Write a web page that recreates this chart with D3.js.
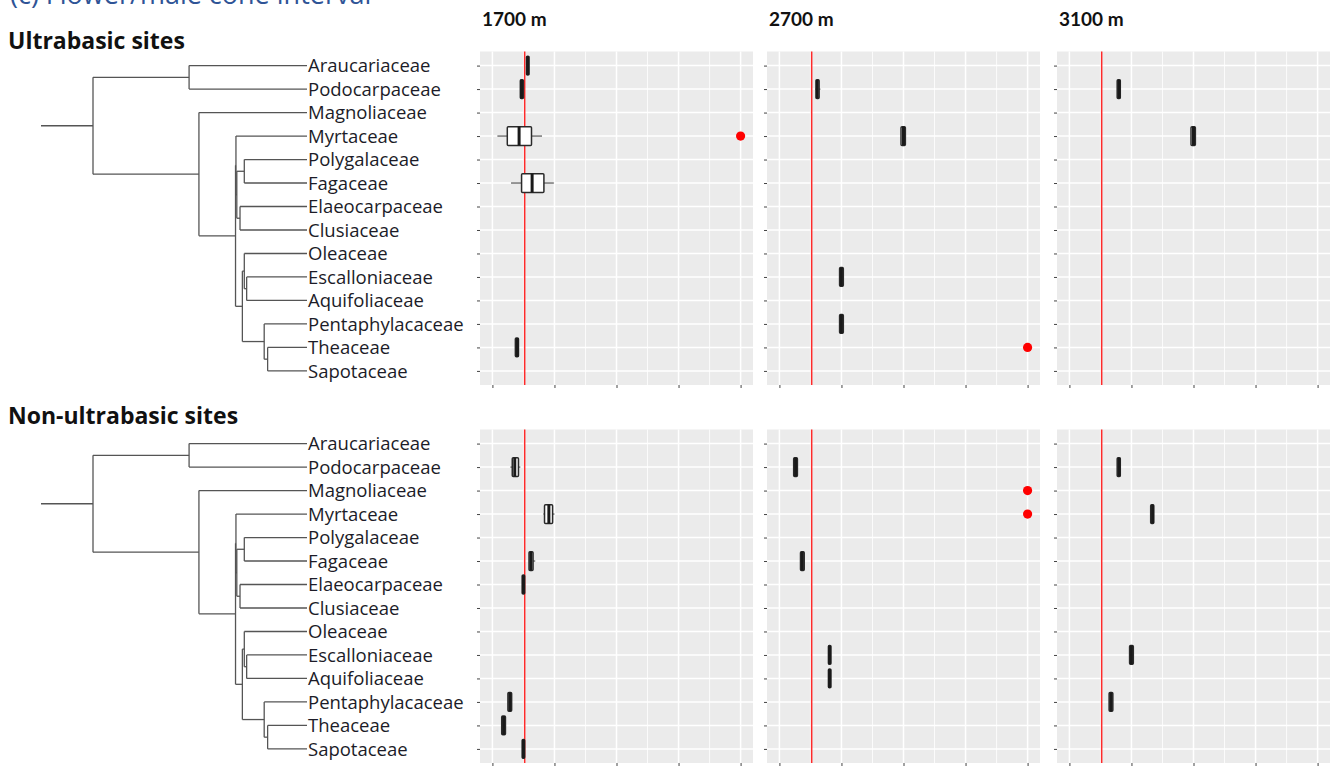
<!DOCTYPE html>
<html>
<head>
<meta charset="utf-8">
<script src="https://cdn.jsdelivr.net/npm/d3@7"></script>
<style>
  body { margin: 0; background: #fff; }
  svg { display: block; font-family: "Open Sans", Lato, sans-serif; }
</style>
</head>
<body>
<svg id="chart" width="1344" height="766"></svg>
<script>
// families, top to bottom (same order as the tree tips)
var families = ["Araucariaceae", "Podocarpaceae", "Magnoliaceae", "Myrtaceae", "Polygalaceae",
  "Fagaceae", "Elaeocarpaceae", "Clusiaceae", "Oleaceae", "Escalloniaceae", "Aquifoliaceae",
  "Pentaphylacaceae", "Theaceae", "Sapotaceae"];

var sites = ["Ultrabasic sites", "Non-ultrabasic sites"];
var elevations = ["1700 m", "2700 m", "3100 m"];
var xTicks = [0, 1, 2, 3, 4];

// phylogeny with relative branch lengths
var newick = "((Araucariaceae:0.551,Podocarpaceae:0.551):0.449,(Magnoliaceae:0.505,((Myrtaceae:0.332," +
  "((Polygalaceae:0.293,Fagaceae:0.293):0.035,(Elaeocarpaceae:0.313,Clusiaceae:0.313):0.015):0.004):0.002," +
  "((Oleaceae:0.293,(Escalloniaceae:0.282,Aquifoliaceae:0.282):0.011):0.009," +
  "(Pentaphylacaceae:0.2,(Theaceae:0.184,Sapotaceae:0.184):0.016):0.102):0.032):0.171):0.495);";
var rootEdge = 0.243;

// boxplots: [family, lower whisker, q1, median, q3, upper whisker]
var ultra1700 = [
  ["Araucariaceae", 0.55, 0.55, 0.57, 0.59, 0.59],
  ["Podocarpaceae", 0.45, 0.45, 0.47, 0.50, 0.50],
  ["Myrtaceae", 0.08, 0.24, 0.43, 0.63, 0.80],
  ["Fagaceae", 0.30, 0.47, 0.64, 0.83, 0.99],
  ["Theaceae", 0.37, 0.37, 0.40, 0.42, 0.42]
];
var ultra2700 = [
  ["Podocarpaceae", 0.58, 0.59, 0.61, 0.64, 0.66],
  ["Myrtaceae", 1.96, 1.96, 2.00, 2.03, 2.03],
  ["Escalloniaceae", 0.97, 0.97, 1.00, 1.03, 1.03],
  ["Pentaphylacaceae", 0.97, 0.97, 1.00, 1.03, 1.03]
];
var ultra3100 = [
  ["Podocarpaceae", 0.77, 0.77, 0.80, 0.82, 0.82],
  ["Myrtaceae", 1.96, 1.96, 2.00, 2.03, 2.03]
];
var non1700 = [
  ["Podocarpaceae", 0.29, 0.32, 0.36, 0.42, 0.45],
  ["Myrtaceae", 0.82, 0.84, 0.91, 0.97, 1.00],
  ["Fagaceae", 0.59, 0.59, 0.62, 0.655, 0.69],
  ["Elaeocarpaceae", 0.48, 0.48, 0.50, 0.52, 0.52],
  ["Pentaphylacaceae", 0.25, 0.25, 0.28, 0.31, 0.31],
  ["Theaceae", 0.15, 0.15, 0.18, 0.21, 0.21],
  ["Sapotaceae", 0.48, 0.48, 0.50, 0.52, 0.52]
];
var non2700 = [
  ["Podocarpaceae", 0.23, 0.23, 0.26, 0.29, 0.29],
  ["Fagaceae", 0.34, 0.34, 0.37, 0.40, 0.40],
  ["Escalloniaceae", 0.79, 0.79, 0.81, 0.83, 0.83],
  ["Aquifoliaceae", 0.79, 0.79, 0.81, 0.83, 0.83]
];
var non3100 = [
  ["Podocarpaceae", 0.77, 0.77, 0.80, 0.82, 0.82],
  ["Myrtaceae", 1.31, 1.31, 1.34, 1.36, 1.36],
  ["Escalloniaceae", 0.97, 0.97, 1.00, 1.03, 1.03],
  ["Pentaphylacaceae", 0.64, 0.64, 0.67, 0.70, 0.70]
];
var boxes = [[ultra1700, ultra2700, ultra3100], [non1700, non2700, non3100]];

// red points: [site index, elevation index, family, value]
var redPoints = [
  [0, 0, "Myrtaceae", 4],
  [0, 1, "Theaceae", 4],
  [1, 1, "Magnoliaceae", 4],
  [1, 1, "Myrtaceae", 4]
];
var refLine = 0.52;

// layout
var panelLeft = [480, 767, 1057], panelW = 273;
var panelTop = [51.5, 429.5], panelH = 333.5;
var siteBaseline = [49, 424];
var treeLeft = 41, tipX = 307;

var svg = d3.select("#chart");

// panel caption, cut off at the top edge as in the source figure
svg.append("text")
    .attr("x", 10).attr("y", 4)
    .attr("font-size", 27)
    .attr("fill", "#2f5496")
    .text("(c) Flower/male cone interval");

elevations.forEach((e, j) => {
  svg.append("text")
      .attr("x", panelLeft[j] + 2).attr("y", 26)
      .attr("font-family", "Lato, sans-serif")
      .attr("font-size", 19).attr("font-weight", "bold")
      .attr("fill", "#111")
      .text(e);
});

// small newick reader
function parseNewick(s) {
  var ancestors = [], node = {}, tokens = s.split(/\s*(;|\(|\)|,|:)\s*/);
  for (var i = 0; i < tokens.length; i++) {
    var t = tokens[i];
    if (t === "(") {
      var child = {};
      node.children = [child];
      ancestors.push(node);
      node = child;
    } else if (t === ",") {
      var sib = {};
      ancestors[ancestors.length - 1].children.push(sib);
      node = sib;
    } else if (t === ")") {
      node = ancestors.pop();
    } else if (t && t !== ":" && t !== ";") {
      if (tokens[i - 1] === ":") node.length = +t;
      else node.name = t;
    }
  }
  return node;
}

var treeData = parseNewick(newick);
var treeX = d3.scaleLinear().domain([-rootEdge, 1]).range([treeLeft, tipX]);

sites.forEach((site, i) => {
  var top = panelTop[i];
  var y = d3.scalePoint().domain(families).range([top, top + panelH]).padding(0.6);

  svg.append("text")
      .attr("x", 8).attr("y", siteBaseline[i])
      .attr("font-size", 23).attr("font-weight", "bold")
      .attr("fill", "#111")
      .text(site);

  // tree
  var root = d3.hierarchy(treeData);
  root.eachBefore(d => { d.len = (d.parent ? d.parent.len : 0) + (d.data.length || 0); });
  root.eachAfter(d => {
    d.py = d.children ? (d.children[0].py + d.children[d.children.length - 1].py) / 2 : y(d.data.name);
  });

  var g = svg.append("g")
      .attr("stroke", "#555")
      .attr("stroke-width", 1.3)
      .attr("fill", "none");

  g.append("line")
      .attr("x1", treeX(-rootEdge)).attr("x2", treeX(0))
      .attr("y1", root.py).attr("y2", root.py);

  g.selectAll(".hbranch")
    .data(root.descendants().slice(1))
    .join("line")
      .attr("x1", d => treeX(d.parent.len)).attr("x2", d => treeX(d.len))
      .attr("y1", d => d.py).attr("y2", d => d.py);

  g.selectAll(".vbranch")
    .data(root.descendants().filter(d => d.children))
    .join("line")
      .attr("x1", d => treeX(d.len)).attr("x2", d => treeX(d.len))
      .attr("y1", d => d.children[0].py)
      .attr("y2", d => d.children[d.children.length - 1].py);

  svg.append("g").selectAll("text")
    .data(root.leaves())
    .join("text")
      .attr("x", tipX + 1).attr("y", d => d.py)
      .attr("dy", "0.36em")
      .attr("font-size", 18.5)
      .attr("fill", "#1c1c28")
      .text(d => d.data.name);

  // panels
  elevations.forEach((e, j) => {
    var left = panelLeft[j];
    var x = d3.scaleLinear().domain([-0.2, 4.2]).range([left, left + panelW]);
    var p = svg.append("g");

    p.append("rect")
        .attr("x", left).attr("y", top)
        .attr("width", panelW).attr("height", panelH)
        .attr("fill", "#ebebeb");

    p.selectAll(".minor")
      .data(d3.range(0.5, 4, 1))
      .join("line")
        .attr("x1", d => x(d)).attr("x2", d => x(d))
        .attr("y1", top).attr("y2", top + panelH)
        .attr("stroke", "#fff").attr("stroke-width", 0.8);

    p.selectAll(".majorx")
      .data(xTicks)
      .join("line")
        .attr("x1", d => x(d)).attr("x2", d => x(d))
        .attr("y1", top).attr("y2", top + panelH)
        .attr("stroke", "#fff").attr("stroke-width", 1.5);

    p.selectAll(".majory")
      .data(families)
      .join("line")
        .attr("x1", left).attr("x2", left + panelW)
        .attr("y1", d => y(d)).attr("y2", d => y(d))
        .attr("stroke", "#fff").attr("stroke-width", 1.5);

    // axis ticks (labels were shrunk to nothing in the original)
    p.append("g")
        .attr("transform", "translate(" + left + ",0)")
        .call(d3.axisLeft(y).tickSize(3).tickFormat(""))
        .call(a => a.select(".domain").remove())
        .call(a => a.selectAll("line").attr("stroke", "#444"));
    p.append("g")
        .attr("transform", "translate(0," + (top + panelH) + ")")
        .call(d3.axisBottom(x).tickValues(xTicks).tickSize(3).tickFormat(""))
        .call(a => a.select(".domain").remove())
        .call(a => a.selectAll("line").attr("stroke", "#444"));

    // reference line
    p.append("line")
        .attr("x1", x(refLine)).attr("x2", x(refLine))
        .attr("y1", top).attr("y2", top + panelH)
        .attr("stroke", "#ff2a2a").attr("stroke-width", 1.5);

    var bh = y.step() * 0.8;
    var bx = p.selectAll(".box")
      .data(boxes[i][j])
      .join("g");

    bx.append("line")
        .attr("x1", d => x(d[1])).attr("x2", d => x(d[2]))
        .attr("y1", d => y(d[0])).attr("y2", d => y(d[0]))
        .attr("stroke", "#444").attr("stroke-width", 1.1);
    bx.append("line")
        .attr("x1", d => x(d[4])).attr("x2", d => x(d[5]))
        .attr("y1", d => y(d[0])).attr("y2", d => y(d[0]))
        .attr("stroke", "#444").attr("stroke-width", 1.1);
    bx.append("rect")
        .attr("x", d => x(d[2])).attr("width", d => x(d[4]) - x(d[2]))
        .attr("y", d => y(d[0]) - bh / 2).attr("height", bh)
        .attr("rx", 1)
        .attr("fill", "#fff").attr("stroke", "#2a2a2a").attr("stroke-width", 1.5);
    bx.append("line")
        .attr("x1", d => x(d[3])).attr("x2", d => x(d[3]))
        .attr("y1", d => y(d[0]) - bh / 2).attr("y2", d => y(d[0]) + bh / 2)
        .attr("stroke", "#1a1a1a").attr("stroke-width", 3);

    p.selectAll(".pt")
      .data(redPoints.filter(r => r[0] === i && r[1] === j))
      .join("circle")
        .attr("cx", d => x(d[3])).attr("cy", d => y(d[2]))
        .attr("r", 4.6)
        .attr("fill", "#ff0000");
  });
});
</script>
</body>
</html>
